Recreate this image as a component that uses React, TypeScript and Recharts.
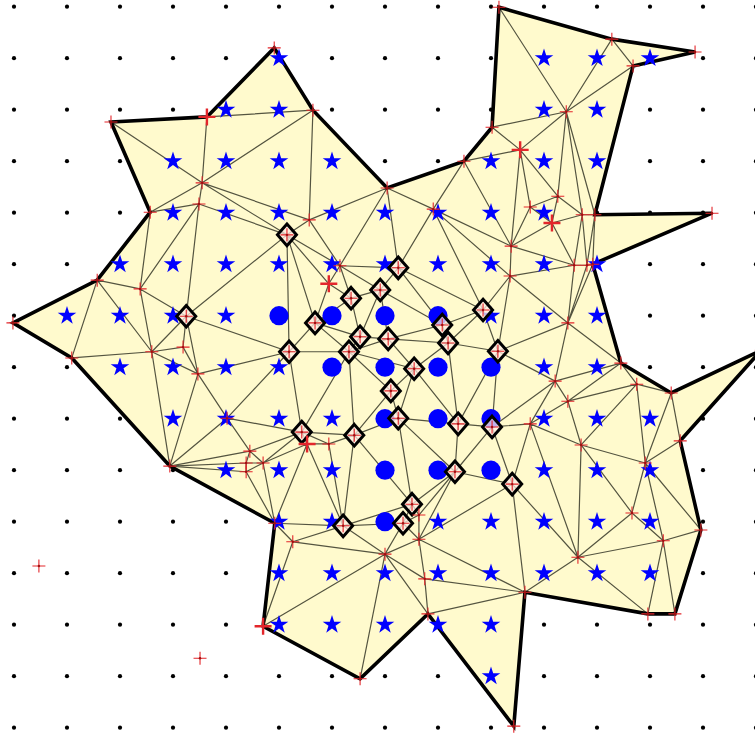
import { ScatterChart, Scatter, XAxis, YAxis } from "recharts";

// grid lattice (data units: one step per grid dot)
const gridCols = [0, 1, 2, 3, 4, 5, 6, 7, 8, 9, 10, 11, 12, 13, 14];
const gridRows = [0, 1, 2, 3, 4, 5, 6, 7, 8, 9, 10, 11, 12, 13, 14];

// [y, x-columns]
const starRows: [number, number[]][] = [
  [13, [5, 10, 11, 12]],
  [12, [4, 5, 10, 11]],
  [11, [3, 4, 5, 6, 9, 10, 11]],
  [10, [3, 4, 5, 6, 7, 8, 9, 10]],
  [9, [2, 3, 4, 5, 6, 7, 8, 9, 10, 11]],
  [8, [1, 2, 3, 4, 9, 10, 11]],
  [7, [2, 3, 4, 5, 10, 11]],
  [6, [3, 4, 5, 6, 10, 11, 12]],
  [5, [4, 5, 6, 10, 11, 12]],
  [4, [5, 6, 8, 9, 10, 11, 12]],
  [3, [5, 6, 7, 8, 9, 10, 11, 12]],
  [2, [5, 6, 7, 8, 9]],
  [1, [9]],
];

const circleRows: [number, number[]][] = [
  [8, [5, 6, 7, 8]],
  [7, [6, 7, 8, 9]],
  [6, [7, 8, 9]],
  [5, [7, 8, 9]],
  [4, [7]],
];

// polygon outline, in order
const boundary: [string, number, number][] = [
  ["B1", 1.83, 11.76], ["B2", 3.64, 11.86], ["B3", 4.91, 13.2], ["B4", 5.64, 11.99],
  ["B5", 7.04, 10.48], ["B6", 8.49, 11.0], ["B7", 9.02, 11.66], ["B8", 9.15, 13.99],
  ["B9", 11.28, 13.37], ["B10", 12.85, 13.12], ["B11", 11.68, 12.85], ["B12", 10.96, 9.96],
  ["B13", 13.17, 9.99], ["B14", 10.92, 9.0], ["B15", 11.45, 7.08], ["B16", 12.4, 6.5],
  ["B17", 14.1, 7.33], ["B18", 12.57, 5.57], ["B19", 12.96, 3.84], ["B20", 12.47, 2.21],
  ["B21", 11.96, 2.21], ["B22", 9.64, 2.63], ["B23", 9.43, 0.03], ["B24", 7.81, 2.21],
  ["B25", 6.53, 0.95], ["B26", 4.7, 1.97], ["B27", 4.92, 3.97], ["B28", 2.94, 5.08],
  ["B29", 1.09, 7.18], ["B30", -0.02, 7.86], ["B31", 1.57, 8.69], ["B32", 2.57, 10.01],
];

const interior: [string, number, number][] = [
  ["a1", 3.55, 10.58], ["a2", 3.49, 10.17], ["a3", 5.57, 9.86], ["a4", 6.15, 8.97],
  ["a5", 5.94, 8.62], ["a6", 2.38, 8.52], ["a7", 3.19, 7.39], ["a8", 2.6, 7.3],
  ["a9", 3.47, 6.87], ["a10", 4.02, 6.01], ["a11", 4.45, 5.37], ["a12", 4.38, 5.14],
  ["a13", 4.38, 4.97], ["a14", 4.7, 5.14], ["a15", 5.53, 5.51], ["a16", 5.94, 5.51],
  ["a17", 5.26, 3.61], ["a18", 10.42, 11.96], ["a19", 9.55, 11.22], ["a20", 7.91, 10.07],
  ["a21", 9.74, 10.11], ["a22", 10.26, 10.32], ["a23", 10.15, 9.8], ["a24", 10.72, 9.96],
  ["a25", 9.38, 9.35], ["a26", 9.36, 8.77], ["a27", 10.57, 8.98], ["a28", 10.81, 8.98],
  ["a29", 10.45, 7.86], ["a30", 10.21, 6.73], ["a31", 10.45, 6.34], ["a32", 11.75, 6.67],
  ["a33", 9.74, 5.9], ["a34", 10.7, 5.49], ["a35", 11.91, 5.14], ["a36", 11.66, 4.17],
  ["a37", 12.25, 3.63], ["a38", 10.64, 3.31], ["a39", 7.64, 3.66], ["a40", 7.64, 4.13],
  ["a41", 7.0, 3.37], ["a42", 7.75, 2.89],
];

const diamonds: [string, number, number][] = [
  ["d1", 5.15, 9.57], ["d2", 3.25, 7.99], ["d3", 5.68, 7.86], ["d4", 5.19, 7.3],
  ["d5", 7.25, 8.93], ["d6", 6.91, 8.5], ["d7", 6.36, 8.34], ["d8", 6.53, 7.59],
  ["d9", 6.32, 7.3], ["d10", 7.06, 7.55], ["d11", 8.08, 7.82], ["d12", 8.19, 7.47],
  ["d13", 8.85, 8.11], ["d14", 9.13, 7.31], ["d15", 7.55, 6.97], ["d16", 7.11, 6.54],
  ["d17", 7.25, 6.01], ["d18", 8.38, 5.9], ["d19", 9.02, 5.84], ["d20", 5.43, 5.74],
  ["d21", 6.42, 5.68], ["d22", 8.32, 4.97], ["d23", 9.4, 4.73], ["d24", 7.51, 4.34],
  ["d25", 7.34, 3.97], ["d26", 6.21, 3.92],
];

const outliers: [string, number, number][] = [
  ["o1", 0.47, 3.14], ["o2", 3.51, 1.35],
];

const bigCrosses = ["B2", "a19", "a23", "B26", "a15", "a5"];

const edges: [string, string][] = [
  ["B2", "B4"], ["B1", "a1"], ["B2", "a1"], ["B4", "a1"], ["B4", "a3"], ["B32", "a1"],
  ["a1", "a2"], ["B32", "a2"], ["a1", "a3"], ["a1", "d1"], ["a2", "d1"], ["a3", "d1"],
  ["a3", "B5"], ["a3", "a4"], ["B5", "a4"], ["d1", "a4"], ["d1", "a5"], ["a4", "a5"],
  ["d1", "d3"], ["d1", "d4"], ["d1", "d2"], ["a2", "a6"], ["a2", "d2"], ["B32", "a6"],
  ["B31", "a6"], ["B31", "a8"], ["B29", "a8"], ["B29", "B31"], ["a6", "d2"], ["a6", "a8"],
  ["a8", "d2"], ["a8", "a7"], ["a7", "d2"], ["d2", "a9"], ["a7", "a9"], ["a8", "a9"],
  ["a8", "B28"], ["a9", "B28"], ["a9", "a10"], ["a9", "d4"], ["d2", "d4"], ["B28", "a10"],
  ["a10", "d4"], ["a10", "d20"], ["a10", "a11"], ["d4", "d20"], ["d3", "d4"], ["d4", "d9"],
  ["d20", "d9"], ["d20", "d21"], ["d20", "a11"], ["d20", "a14"], ["d20", "a15"], ["d20", "a16"],
  ["B28", "a11"], ["B28", "a12"], ["B28", "a13"], ["a11", "a12"], ["a11", "a14"], ["a12", "a14"],
  ["a12", "a13"], ["a13", "a14"], ["a13", "B27"], ["a14", "B27"], ["a14", "a15"], ["a15", "B27"],
  ["a15", "a16"], ["a15", "d26"], ["a16", "d26"], ["a16", "d21"], ["B27", "d26"], ["B27", "a17"],
  ["a17", "d26"], ["a17", "B26"], ["a17", "a41"], ["B26", "a41"], ["d26", "a41"], ["d26", "d21"],
  ["d26", "d24"], ["d26", "d25"], ["d25", "a41"], ["a41", "B25"], ["a41", "B24"], ["a41", "a42"],
  ["a41", "a39"], ["d25", "a39"], ["d25", "a40"], ["d24", "d25"], ["d24", "a40"], ["a40", "a39"],
  ["d24", "d21"], ["d24", "d22"], ["d24", "d17"], ["d22", "a40"], ["d22", "a39"], ["d22", "d23"],
  ["d23", "a39"], ["d23", "a33"], ["d23", "B22"], ["d23", "a38"], ["d22", "d19"], ["d22", "d18"],
  ["d22", "d17"], ["a39", "a42"], ["a39", "B22"], ["a42", "B22"], ["a42", "B24"], ["B22", "a38"],
  ["B22", "B24"], ["a5", "d3"], ["a5", "d7"], ["a4", "d7"], ["d3", "d7"], ["d3", "d8"],
  ["d3", "d9"], ["d7", "d8"], ["d8", "d9"], ["d8", "d10"], ["d7", "d6"], ["d6", "d8"],
  ["a4", "d6"], ["a4", "d5"], ["d5", "d6"], ["d6", "d10"], ["d6", "d11"], ["d5", "d11"],
  ["d10", "d11"], ["d5", "B5"], ["d5", "a20"], ["d5", "d13"], ["d11", "d13"], ["d11", "d12"],
  ["d12", "d13"], ["d13", "d14"], ["d12", "d14"], ["d10", "d12"], ["d10", "d15"], ["d12", "d15"],
  ["d9", "d10"], ["d9", "d15"], ["d9", "d16"], ["d15", "d16"], ["d15", "d17"], ["d16", "d17"],
  ["d16", "d21"], ["d9", "d21"], ["d17", "d21"], ["d15", "d18"], ["d12", "d18"], ["d14", "d18"],
  ["d17", "d18"], ["d18", "d19"], ["d14", "d19"], ["d19", "d23"], ["a20", "d13"], ["a20", "a26"],
  ["a26", "d13"], ["a26", "d14"], ["d14", "a29"], ["d14", "a30"], ["a26", "a29"], ["a26", "a27"],
  ["a25", "a26"], ["a27", "a29"], ["a28", "a29"], ["B14", "a29"], ["B15", "a29"], ["a29", "a30"],
  ["a30", "B15"], ["a30", "a31"], ["a30", "a33"], ["d19", "a30"], ["d19", "a33"], ["a31", "B15"],
  ["a31", "a32"], ["a32", "B15"], ["a31", "a33"], ["a31", "a34"], ["a32", "a34"], ["a32", "B16"],
  ["a32", "a35"], ["B16", "a35"], ["B16", "B18"], ["B18", "a35"], ["a35", "B19"], ["a34", "a35"],
  ["a35", "a36"], ["a35", "a37"], ["a37", "B19"], ["a34", "a36"], ["a36", "a37"], ["a36", "a38"],
  ["a34", "a38"], ["a33", "a34"], ["a33", "a38"], ["a37", "a38"], ["a37", "B20"], ["a37", "B21"],
  ["a38", "B21"], ["B8", "a18"], ["B9", "a18"], ["B11", "a18"], ["B7", "a18"], ["B7", "a19"],
  ["a18", "a19"], ["a18", "a22"], ["a18", "a24"], ["a18", "B12"], ["a24", "B12"], ["B9", "B11"],
  ["B6", "a19"], ["B6", "a20"], ["B6", "a25"], ["a19", "a25"], ["a19", "a21"], ["a21", "a25"],
  ["a19", "a22"], ["a21", "a22"], ["a21", "a23"], ["a22", "a23"], ["a22", "a24"], ["a23", "a24"],
  ["a23", "a25"], ["a23", "a27"], ["a24", "a27"], ["a24", "a28"], ["a27", "a28"], ["a25", "a27"],
  ["a20", "a25"], ["B5", "a20"], ["B12", "a28"], ["B12", "B14"], ["a28", "B14"],
];

const toPt = ([name, x, y]: [string, number, number]) => ({ name, x, y });
const lookup: Record<string, { x: number; y: number }> = {};
[...boundary, ...interior, ...diamonds, ...outliers].forEach((p) => {
  lookup[p[0]] = { x: p[1], y: p[2] };
});

const outlineData = [...boundary.map(toPt), toPt(boundary[0])];
const edgeData = edges.flatMap(([a, b]) => [lookup[a], lookup[b]]);
const starData = starRows.flatMap(([y, xs]) => xs.map((x) => ({ x, y })));
const circleData = circleRows.flatMap(([y, xs]) => xs.map((x) => ({ x, y })));
const taken = new Set([...starData, ...circleData].map((p) => `${p.x},${p.y}`));
const dotData = gridRows.flatMap((y) =>
  gridCols.filter((x) => !taken.has(`${x},${y}`)).map((x) => ({ x, y }))
);
const crossData = [...boundary, ...interior, ...diamonds, ...outliers]
  .filter((p) => !bigCrosses.includes(p[0]))
  .map(toPt);
const bigCrossData = [...boundary, ...interior].filter((p) => bigCrosses.includes(p[0])).map(toPt);
const diamondData = diamonds.map(toPt);

const RED = "#e3262b";
const BLUE = "#0000ff";

const Empty = () => <g />;

function polyPath(points: { x: number; y: number }[], close: boolean) {
  const d = points.map((p, i) => `${i ? "L" : "M"}${p.x},${p.y}`).join("");
  return close ? d + "Z" : d;
}

function StarShape(props: any) {
  const { cx, cy } = props;
  const R = 9.8;
  const r = R * 0.382;
  const pts: string[] = [];
  for (let k = 0; k < 10; k++) {
    const ang = (-90 + k * 36) * (Math.PI / 180);
    const rad = k % 2 === 0 ? R : r;
    pts.push(`${cx + rad * Math.cos(ang)},${cy + rad * Math.sin(ang)}`);
  }
  return <polygon points={pts.join(" ")} fill={BLUE} />;
}

function CircleShape(props: any) {
  return <circle cx={props.cx} cy={props.cy} r={9.6} fill={BLUE} />;
}

function DotShape(props: any) {
  return <circle cx={props.cx} cy={props.cy} r={2.1} fill="#000" />;
}

function DiamondShape(props: any) {
  const { cx, cy } = props;
  const w = 9.5;
  const h = 10.8;
  return (
    <path
      d={`M${cx},${cy - h}L${cx + w},${cy}L${cx},${cy + h}L${cx - w},${cy}Z`}
      fill="rgba(255,236,228,0.75)"
      stroke="#000"
      strokeWidth={3}
      strokeLinejoin="miter"
    />
  );
}

function CrossShape(props: any) {
  const { cx, cy } = props;
  const h = 6.5;
  return (
    <g>
      <path d={`M${cx - h},${cy}H${cx + h}M${cx},${cy - h}V${cy + h}`} stroke={RED} strokeWidth={1.1} />
      <circle cx={cx} cy={cy} r={1.2} fill="#a01010" />
    </g>
  );
}

function BigCrossShape(props: any) {
  const { cx, cy } = props;
  const h = 8.5;
  return (
    <g>
      <path d={`M${cx - h},${cy}H${cx + h}M${cx},${cy - h}V${cy + h}`} stroke={RED} strokeWidth={2.4} />
    </g>
  );
}

export default function App() {
  return (
    <div style={{ position: "absolute", left: 0, top: 0, background: "#fff" }}>
      <ScatterChart width={755} height={736} margin={{ top: 0, right: 0, bottom: 0, left: 0 }}>
        <XAxis type="number" dataKey="x" domain={[-0.264, 13.981]} hide allowDataOverflow />
        <YAxis type="number" dataKey="y" domain={[-0.161, 14.13]} hide allowDataOverflow />
        <Scatter
          data={outlineData}
          isAnimationActive={false}
          shape={Empty}
          line={(p: any) => <path d={polyPath(p.points, true)} fill="#fffacd" stroke="none" />}
        />
        <Scatter
          data={edgeData}
          isAnimationActive={false}
          shape={Empty}
          line={(p: any) => {
            const pts = p.points;
            let d = "";
            for (let i = 0; i + 1 < pts.length; i += 2) {
              d += `M${pts[i].x},${pts[i].y}L${pts[i + 1].x},${pts[i + 1].y}`;
            }
            return <path d={d} fill="none" stroke="#545440" strokeWidth={1.2} />;
          }}
        />
        <Scatter
          data={outlineData}
          isAnimationActive={false}
          shape={Empty}
          line={(p: any) => (
            <path d={polyPath(p.points, true)} fill="none" stroke="#000" strokeWidth={3.6} strokeLinejoin="miter" />
          )}
        />
        <Scatter data={dotData} isAnimationActive={false} shape={DotShape} />
        <Scatter data={starData} isAnimationActive={false} shape={StarShape} />
        <Scatter data={circleData} isAnimationActive={false} shape={CircleShape} />
        <Scatter data={diamondData} isAnimationActive={false} shape={DiamondShape} />
        <Scatter data={crossData} isAnimationActive={false} shape={CrossShape} />
        <Scatter data={bigCrossData} isAnimationActive={false} shape={BigCrossShape} />
      </ScatterChart>
    </div>
  );
}
